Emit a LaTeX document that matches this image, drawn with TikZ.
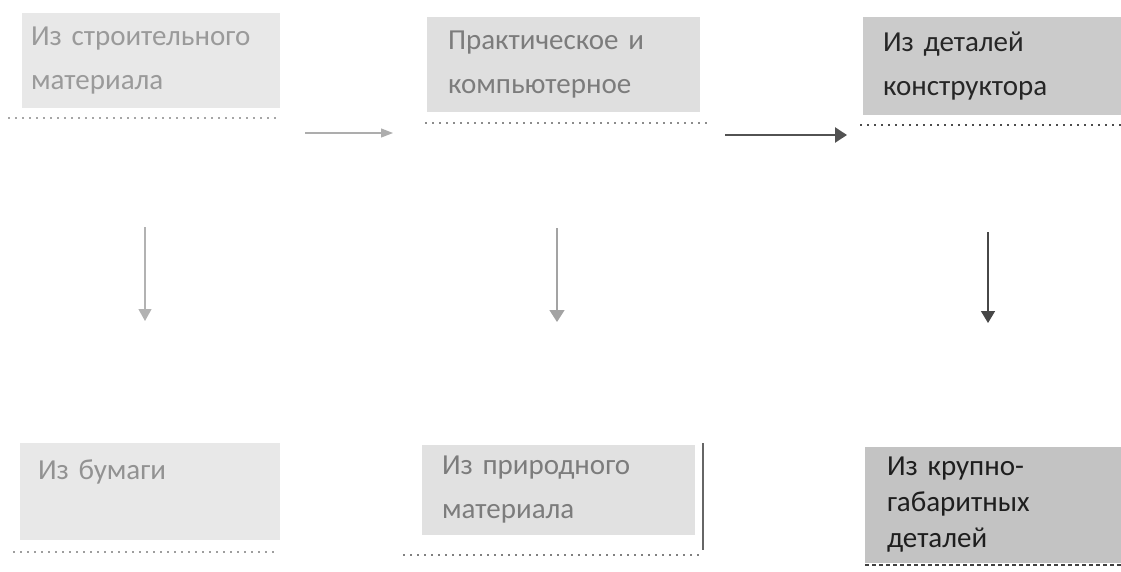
\documentclass[tikz,border=0pt]{standalone}
\usepackage{fontspec}
\setmainfont{Carlito}
\usetikzlibrary{arrows.meta}

\definecolor{fillpale}{HTML}{E8E8E8}
\definecolor{fillmid}{HTML}{DFDFDF}
\definecolor{filldark}{HTML}{CBCBCB}
\definecolor{txtpale}{HTML}{9A9A9A}
\definecolor{txtmid}{HTML}{7C7C7C}
\definecolor{txtdark}{HTML}{262626}

\begin{document}
\begin{tikzpicture}[x=1pt,y=-1pt,
  box/.style={rectangle, inner ysep=0pt, align=left, font=\fontsize{29}{44}\selectfont},
  dotline/.style={line width=2pt, dash pattern=on 2pt off 5pt},
  arr/.style={-{Triangle[width=#1pt,length=12pt]}},
  arr/.default=15]
  \useasboundingbox (0,0) rectangle (1121,571);

  \node[box, fill=fillpale, text=txtpale, inner xsep=9pt, text width=240pt, minimum height=95pt] (b1) at (151,60.5) {Из строительного\\материала};
  \node[box, fill=fillmid, text=txtmid, inner xsep=21pt, text width=231pt, minimum height=95pt] (b2) at (563.5,64.5) {Практическое и\\компьютерное};
  \node[box, fill=filldark, text=txtdark, inner xsep=20pt, text width=218pt, minimum height=98pt] (b3) at (992,66) {Из деталей\\конструктора};

  \node[box, fill=fillpale, text=txtpale!95!black, inner xsep=18pt, text width=224pt, minimum height=97pt, text height=20pt, text depth=45pt] (b4) at (150,491.5) {Из бумаги};
  \node[box, fill=fillmid!95!white, text=txtmid, inner xsep=20pt, text width=233pt, minimum height=90pt] (b5) at (558.5,490) {Из природного\\материала};
  \node[box, fill=filldark!96!black, text=txtdark!80!black, inner xsep=22pt, text width=212pt, minimum height=116pt, font=\fontsize{29}{36}\selectfont] (b6) at (993,505) {Из крупно-\\габаритных\\деталей};

  \draw[dotline, black!35] (8,118) -- (280,118);
  \draw[dotline, black!45] (425,123) -- (707,123);
  \draw[dotline, black!70] (860,125) -- (1121,125);
  \draw[dotline, black!38] (13,552) -- (277,552);
  \draw[dotline, black!50] (403,555) -- (703,555);
  \draw[dotline, black!75, dash pattern=on 4pt off 3pt, line width=1.5pt] (865,565) -- (1121,565);

  \draw[line width=1.5pt, black!60] (703,443) -- (703,550);

  \coordinate (h1s) at (305,133);
  \coordinate (h1e) at (393,133);
  \coordinate (h2s) at (725,135);
  \coordinate (h2e) at (847,135);
  \coordinate (v1s) at (145,227);
  \coordinate (v1e) at (145,321);
  \coordinate (v2s) at (557,228);
  \coordinate (v2e) at (557,322);
  \coordinate (v3s) at (988,232);
  \coordinate (v3e) at (988,323);

  \draw[arr=9, line width=1.2pt, black!32] (h1s) -- (h1e);
  \draw[arr=15, line width=2.5pt, black!68] (h2s) -- (h2e);
  \draw[arr=13, line width=1.2pt, black!30] (v1s) -- (v1e);
  \draw[arr=15, line width=1.5pt, black!36] (v2s) -- (v2e);
  \draw[arr=14, line width=1.5pt, black!72] (v3s) -- (v3e);
\end{tikzpicture}
\end{document}
